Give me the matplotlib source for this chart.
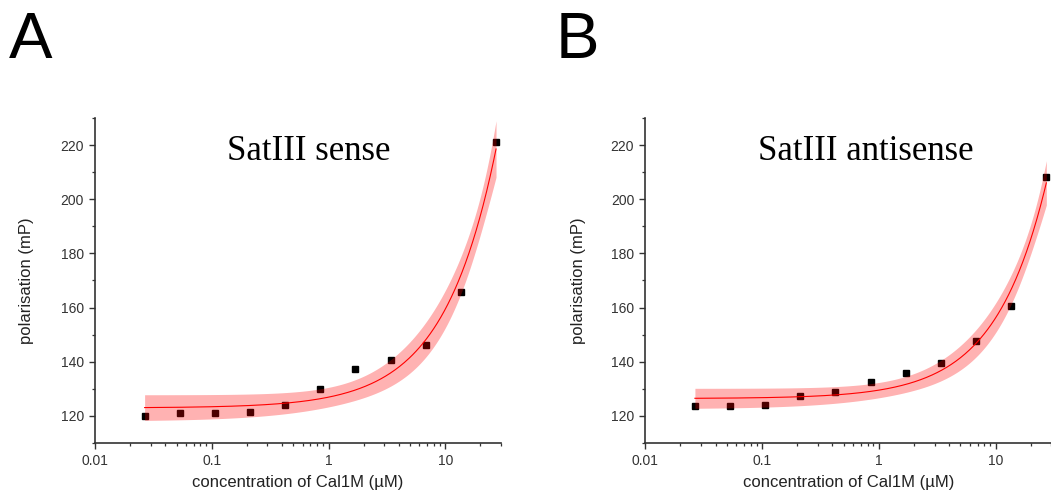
import numpy as np
import matplotlib
matplotlib.use("Agg")
import matplotlib.pyplot as plt
from matplotlib.ticker import LogLocator, MultipleLocator, FixedLocator, NullFormatter

# ---- data ----
conc = [0.0266, 0.0531, 0.106, 0.2125, 0.425, 0.85, 1.7, 3.4, 6.8, 13.6, 27.2]  # µM
sense = [119.9, 121.2, 121.1, 121.5, 124.2, 130.0, 137.4, 140.6, 146.1, 165.6, 221.1]
antisense = [123.6, 123.5, 124.1, 127.3, 128.9, 132.6, 135.9, 139.4, 147.6, 160.6, 208.2]
titles = ["SatIII sense", "SatIII antisense"]
panel_letters = ["A", "B"]
yticks_major = [120, 140, 160, 180, 200, 220]
xtick_labels = ["0.01", "0.1", "1", "10"]
T95 = 2.306  # Student t, 95 %, 8 dof (3-parameter fit)


def power_fit(x, y):
    """y = y0 + c * x**n, least squares via grid over n; returns params, covariance."""
    best = None
    for n_exp in np.linspace(0.3, 3.0, 2701):
        X = np.vstack([np.ones_like(x), x ** n_exp]).T
        cf, *_ = np.linalg.lstsq(X, y, rcond=None)
        ssr = np.sum((y - X @ cf) ** 2)
        if best is None or ssr < best[0]:
            best = (ssr, cf[0], cf[1], n_exp)
    ssr, y0, c, n_exp = best
    J = np.vstack([np.ones_like(x), x ** n_exp, c * x ** n_exp * np.log(x)]).T
    s2 = ssr / (len(x) - 3)
    cov = np.linalg.inv(J.T @ J) * s2
    return (y0, c, n_exp), cov


W, H = 1051, 497
fig = plt.figure(figsize=(W / 100, H / 100), dpi=100)

axes_px = [(95, 118, 406, 325), (645.3, 118, 406, 325)]
title_x = [0.527, 0.543]
ylab_x = [-0.1495, -0.146]
letter_px = [(9, 58), (556, 58)]

for i, (yvals, title) in enumerate(zip([sense, antisense], titles)):
    l, t, w, h = axes_px[i]
    ax = fig.add_axes([l / W, 1 - (t + h) / H, w / W, h / H])
    x = np.array(conc)
    y = np.array(yvals)
    (y0, c, n_exp), cov = power_fit(x, y)
    xf = np.logspace(np.log10(x[0]), np.log10(x[-1]), 300)
    yf = y0 + c * xf ** n_exp
    Jf = np.vstack([np.ones_like(xf), xf ** n_exp, c * xf ** n_exp * np.log(xf)]).T
    hw = T95 * np.sqrt(np.einsum("ij,jk,ik->i", Jf, cov, Jf))

    ax.plot(x, y, ls="none", marker="s", ms=5, color="black", zorder=2)
    ax.plot(xf, yf, color="#ff0000", lw=0.8, zorder=3)
    ax.fill_between(xf, yf - hw, yf + hw, color="#ff0000", alpha=0.3, lw=0, zorder=4)

    ax.set_xscale("log")
    ax.set_xlim(0.01, 30)
    ax.set_ylim(110, 230)
    ax.xaxis.set_major_locator(FixedLocator([0.01, 0.1, 1, 10]))
    ax.set_xticklabels(xtick_labels)
    ax.xaxis.set_minor_locator(LogLocator(base=10, subs=np.arange(2, 10)))
    ax.xaxis.set_minor_formatter(NullFormatter())
    ax.yaxis.set_major_locator(FixedLocator(yticks_major))
    ax.yaxis.set_minor_locator(MultipleLocator(10))

    for sp in ["top", "right"]:
        ax.spines[sp].set_visible(False)
    for sp in ["left", "bottom"]:
        ax.spines[sp].set_color("#333333")
        ax.spines[sp].set_linewidth(1.2)
    ax.tick_params(which="major", direction="out", length=4, width=1.0, color="#333333",
                   labelsize=10, labelcolor="#333333", pad=4)
    ax.tick_params(which="minor", direction="out", length=2.5, width=0.9, color="#333333")
    for lab in ax.get_xticklabels() + ax.get_yticklabels():
        lab.set_family("Liberation Sans")

    ax.set_xlabel("concentration of Cal1M (µM)", fontsize=12, family="Liberation Sans", color="#222222")
    ax.set_ylabel("polarisation (mP)", fontsize=12, family="Liberation Sans", color="#222222")
    ax.xaxis.set_label_coords(0.5, -0.10)
    ax.yaxis.set_label_coords(ylab_x[i], 0.5)

    ax.text(title_x[i], 0.871, title, transform=ax.transAxes, ha="center", va="baseline",
            fontsize=25, family="Liberation Serif", color="black")

    lx, ly = letter_px[i]
    fig.text(lx / W, 1 - ly / H, panel_letters[i], ha="left", va="baseline",
             fontsize=47, family="Liberation Sans", color="black")

fig.savefig("out.png", dpi=100)
